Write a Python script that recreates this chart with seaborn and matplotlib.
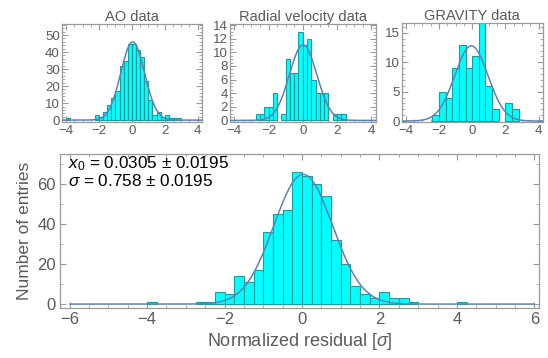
import numpy as np
import pandas as pd
import matplotlib
matplotlib.use("Agg")
import matplotlib.pyplot as plt
from matplotlib.ticker import MultipleLocator
import seaborn as sns

# ---------------- data ----------------
# AO data, bin width 0.25, left edges of non-empty bins and counts
ao_left = [-4.0, -2.25, -2.0, -1.75, -1.5, -1.25, -1.0, -0.75, -0.5, -0.25, 0.0,
           0.25, 0.5, 0.75, 1.0, 1.25, 1.5, 1.75, 2.0, 2.25, 2.5, 2.75]
ao_counts = [1, 3, 2, 5, 9, 13, 17, 32, 35, 45, 45,
             41, 37, 23, 12, 3, 5, 2, 3, 1, 1, 1]
ao_width = 0.25

# Radial velocity data, bin width 0.25
rv_left = [-2.75, -2.5, -2.25, -2.0, -1.75, -1.25, -1.0, -0.75, -0.5, -0.25,
           0.0, 0.25, 0.5, 0.75, 1.0, 1.25, 1.75, 2.0, 2.25]
rv_counts = [1, 1, 2, 2, 4, 1, 9, 7, 7, 13,
             11, 12, 6, 4, 4, 4, 1, 1, 1]
rv_width = 0.25

# GRAVITY data, bin width 0.4
gr_left = [-2.4, -2.0, -1.6, -1.2, -0.8, -0.4, 0.0, 0.4, 0.8, 1.2, 2.0, 2.4]
gr_counts = [1, 5, 4, 9, 13, 9, 11, 17, 6, 2, 3, 2]
gr_width = 0.4

# All data combined, bin width 0.25
all_left = [-4.0, -2.75, -2.5, -2.25, -2.0, -1.75, -1.5, -1.25, -1.0, -0.75,
            -0.5, -0.25, 0.0, 0.25, 0.5, 0.75, 1.0, 1.25, 1.5, 1.75,
            2.0, 2.25, 2.5, 2.75, 4.0]
all_counts = [1, 1, 1, 6, 5, 14, 11, 17, 36, 45,
              47, 66, 64, 60, 54, 32, 20, 9, 5, 3,
              6, 3, 3, 1, 1]
all_width = 0.25

# Gaussian fit parameters (amplitude, centre, sigma) per panel
fit_names = ["AO", "RV", "GRAVITY", "ALL"]
fit_amp = [46.0, 11.1, 12.8, 64.8]
fit_x0 = [0.05, 0.02, -0.05, 0.0305]
fit_sigma = [0.72, 0.80, 1.00, 0.758]

titles = ["AO data", "Radial velocity data", "GRAVITY data"]
annot_lines = [r"$x_0$ = 0.0305 ± 0.0195", r"$\sigma$ = 0.758 ± 0.0195"]
xlabel = r"Normalized residual [$\sigma$]"
ylabel = "Number of entries"

# ---------------- style ----------------
sns.set_style("white")
plt.rcParams["font.family"] = ["Liberation Sans", "DejaVu Sans"]
plt.rcParams["mathtext.fontset"] = "custom"
plt.rcParams["mathtext.rm"] = "Liberation Sans"
plt.rcParams["mathtext.it"] = "Liberation Sans:italic"
plt.rcParams["axes.unicode_minus"] = True

BAR_FACE = "#00FFFF"
BAR_EDGE = "#1E9C9C"
CURVE = "#5E81B5"
FRAME = "#9A9A9A"
TXT = "#5A5A5A"

W, H = 548, 358
fig = plt.figure(figsize=(W / 100, H / 100), dpi=100)


def rect(l, t, r, b):
    return [l / W, 1 - b / H, (r - l) / W, (b - t) / H]


def draw_panel(ax, left, counts, width, k, xlim, ylim, curve_range):
    left = np.asarray(left, float)
    counts = np.asarray(counts, float)
    df = pd.DataFrame({"x": left + width / 2, "n": counts})
    sns.histplot(data=df, x="x", weights="n", binwidth=width,
                 binrange=(left.min(), left.max() + width), ax=ax,
                 color=BAR_FACE, edgecolor=BAR_EDGE, linewidth=0.8,
                 alpha=1.0, zorder=2)
    for p in list(ax.patches):
        if p.get_height() == 0:
            p.remove()
    xs = np.linspace(curve_range[0], curve_range[1], 600)
    ys = fit_amp[k] * np.exp(-0.5 * ((xs - fit_x0[k]) / fit_sigma[k]) ** 2)
    sns.lineplot(x=xs, y=ys, ax=ax, color=CURVE, linewidth=1.1, zorder=3)
    ax.set_xlim(*xlim)
    ax.set_ylim(*ylim)
    ax.set_xlabel("")
    ax.set_ylabel("")
    for s in ax.spines.values():
        s.set_visible(True)
        s.set_color(FRAME)
        s.set_linewidth(0.9)
    ax.tick_params(which="both", direction="in", colors=FRAME,
                   bottom=True, left=True, top=True, right=True,
                   labelcolor=TXT)
    ax.tick_params(which="major", length=4, width=0.8)
    ax.tick_params(which="minor", length=2, width=0.6)


# small panels
small = [
    (rect(62, 24, 201.7, 122.5), ao_left, ao_counts, ao_width, 0, (-1.4, 56.5), 10, 2),
    (rect(230, 24, 375.5, 122.5), rv_left, rv_counts, rv_width, 1, (-0.3, 14.15), 2, 0.5),
    (rect(401.7, 23.5, 542.7, 122.5), gr_left, gr_counts, gr_width, 2, (-0.25, 16.6), 5, 1),
]
for i, (r, lf, ct, w, k, yl, ymaj, ymin) in enumerate(small):
    ax = fig.add_axes(r)
    draw_panel(ax, lf, ct, w, k, (-4.25, 4.25), yl, (-4.25, 4.25))
    ax.xaxis.set_major_locator(MultipleLocator(2))
    ax.xaxis.set_minor_locator(MultipleLocator(0.5))
    ax.yaxis.set_major_locator(MultipleLocator(ymaj))
    ax.yaxis.set_minor_locator(MultipleLocator(ymin))
    ax.tick_params(which="major", labelsize=9.5, pad=1.5)
    ax.set_title(titles[i], fontsize=10.5, color=TXT, pad=2.5)

# main panel
ax = fig.add_axes(rect(60, 154, 539, 307.7))
draw_panel(ax, all_left, all_counts, all_width, 3, (-6.25, 6.12), (-1.8, 75), (-6, 6))
ax.xaxis.set_major_locator(MultipleLocator(2))
ax.xaxis.set_minor_locator(MultipleLocator(0.5))
ax.yaxis.set_major_locator(MultipleLocator(20))
ax.yaxis.set_minor_locator(MultipleLocator(10))
ax.tick_params(which="major", labelsize=12, pad=3)
ax.set_xlabel(xlabel, fontsize=13, color=TXT, labelpad=3)
ax.set_ylabel(ylabel, fontsize=12.5, color=TXT, labelpad=4)
ax.text(0.017, 0.905, annot_lines[0], transform=ax.transAxes, ha="left",
        va="baseline", fontsize=12.3, color="black")
ax.text(0.017, 0.79, annot_lines[1], transform=ax.transAxes, ha="left",
        va="baseline", fontsize=12.3, color="black")

fig.savefig("out.png", dpi=100)
